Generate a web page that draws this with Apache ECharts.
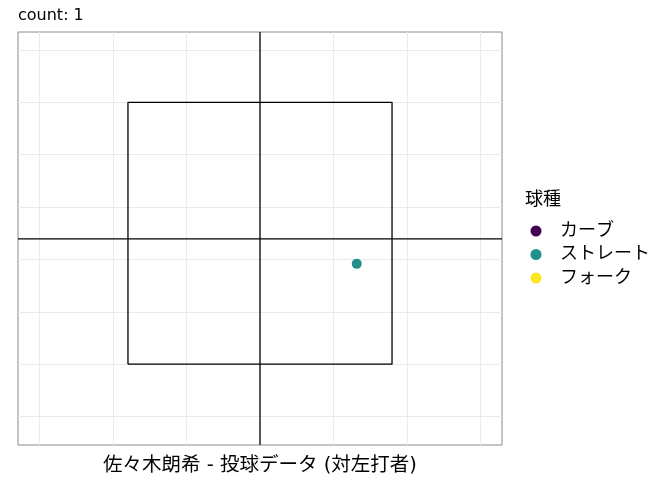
<!DOCTYPE html>
<html>
<head>
<meta charset="utf-8">
<script src="https://cdn.jsdelivr.net/npm/echarts@6/dist/echarts.min.js"></script>
<style>
  html, body { margin: 0; padding: 0; background: #fff; }
  #chart { width: 672px; height: 480px; }
</style>
</head>
<body>
<div id="chart"></div>
<script>
// plot extent (data units)
const xRange = [-1.646, 1.646];
const yRange = [-0.272, 3.672];
// strike zone box
const zoneX = [-0.898, 0.898];
const zoneY = [0.5, 3.0];
// centre cross lines
const crossX = 0;
const crossY = 1.697;

// pitch types and their points
const pitchTypes = ['カーブ', 'ストレート', 'フォーク'];
const pitchColors = ['#440154', '#21908C', '#FDE725'];
const pitchPoints = [
  [],
  [[0.658, 1.458]],
  [],
];

const font = '"DejaVu Sans", "Noto Sans CJK JP", sans-serif';
const blackLine = { color: '#000', width: 1.3 };

let chart = echarts.init(document.getElementById('chart'), null, { renderer: 'canvas' });

let zonePath = [
  [zoneX[0], zoneY[0]],
  [zoneX[1], zoneY[0]],
  [zoneX[1], zoneY[1]],
  [zoneX[0], zoneY[1]],
  [zoneX[0], zoneY[0]],
];

let lineSeries = [
  [[xRange[0], crossY], [xRange[1], crossY]],
  [[crossX, yRange[0]], [crossX, yRange[1]]],
  zonePath,
].map(d => ({
  type: 'line',
  data: d,
  symbol: 'none',
  silent: true,
  lineStyle: blackLine,
  z: 3,
}));

let pointSeries = pitchTypes.map((name, i) => ({
  name: name,
  type: 'scatter',
  data: pitchPoints[i],
  symbolSize: 10,
  itemStyle: { color: pitchColors[i], opacity: 1 },
  z: 4,
}));

let gridLine = {
  show: true,
  showMinLine: false,
  showMaxLine: false,
  lineStyle: { color: '#ebebeb', width: 1 },
};

let option = {
  animation: false,
  textStyle: { fontFamily: font },
  title: [
    {
      text: 'count: 1',
      left: 13,
      top: 3,
      textStyle: { fontFamily: font, fontSize: 16, fontWeight: 'normal', color: '#000' },
    },
    {
      text: '球種',
      left: 520,
      top: 186,
      textStyle: { fontFamily: font, fontSize: 18, fontWeight: 'normal', color: '#000' },
    },
  ],
  legend: {
    orient: 'vertical',
    left: 525.5,
    top: 217,
    data: pitchTypes,
    icon: 'circle',
    itemWidth: 11,
    itemHeight: 11,
    itemGap: 5.5,
    textStyle: { fontFamily: font, fontSize: 18, color: '#000', lineHeight: 18, padding: [0, 0, 0, 13.5] },
  },
  grid: {
    left: 18,
    right: 170,
    top: 32,
    bottom: 35,
    outerBoundsMode: 'none',
    show: true,
    borderColor: '#8a8a8a',
    borderWidth: 1,
  },
  xAxis: {
    type: 'value',
    min: xRange[0],
    max: xRange[1],
    splitNumber: 6,
    minInterval: 0.5,
    maxInterval: 0.5,
    name: '佐々木朗希 - 投球データ (対左打者)',
    nameLocation: 'middle',
    nameGap: 11,
    nameTextStyle: { fontFamily: font, fontSize: 19.5, color: '#000' },
    axisLine: { show: false },
    axisTick: { show: false },
    axisLabel: { show: false },
    splitLine: gridLine,
  },
  yAxis: {
    type: 'value',
    min: yRange[0],
    max: yRange[1],
    splitNumber: 8,
    minInterval: 0.5,
    maxInterval: 0.5,
    axisLine: { show: false },
    axisTick: { show: false },
    axisLabel: { show: false },
    splitLine: gridLine,
  },
  series: lineSeries.concat(pointSeries),
};

chart.setOption(option);
</script>
</body>
</html>
